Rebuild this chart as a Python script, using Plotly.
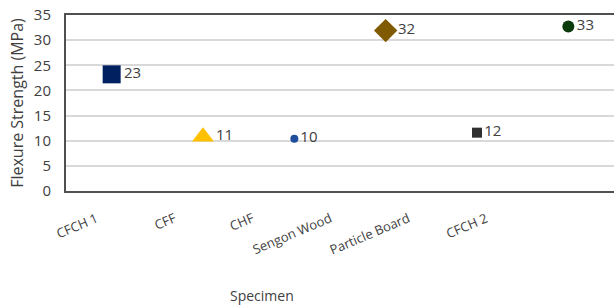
import plotly.graph_objects as go

categories = ["CFCH 1", "CFF", "CHF", "Sengon Wood", "Particle Board", "CFCH 2"]
strength = [23.2, 10.8, 10.4, 31.9, 11.6, 32.7]
labels = ["23", "11", "10", "32", "12", "33"]
symbols = ["square", "triangle-up", "circle", "diamond", "square", "circle"]
colors = ["#002060", "#FFC000", "#1F4E9C", "#7F5A00", "#303030", "#0B3A0B"]
sizes = [18, 19, 8, 18, 10, 12]

fig = go.Figure()
for c, v, t, s, col, sz in zip(categories, strength, labels, symbols, colors, sizes):
    fig.add_trace(go.Scatter(
        x=[c], y=[v], mode="markers+text", text=[t], textposition="middle right",
        marker=dict(symbol=s, color=col, size=sz, line=dict(width=0)),
        textfont=dict(family="Open Sans, sans-serif", size=15, color="#404040"),
        showlegend=False, cliponaxis=False,
    ))

# category label axis (labels sit on a tighter spacing than the markers)
fig.add_trace(go.Scatter(x=categories, y=[None] * len(categories), xaxis="x2",
                         showlegend=False, hoverinfo="skip", mode="markers"))

fig.update_layout(
    width=614, height=307,
    margin=dict(l=66, r=0, t=15, b=116),
    paper_bgcolor="white", plot_bgcolor="white",
    font=dict(family="Open Sans, sans-serif", size=13, color="#404040"),
    xaxis=dict(
        type="category", categoryorder="array", categoryarray=categories,
        range=[-0.5, 5.5], showgrid=False, automargin=False, showticklabels=False,
        showline=True, linecolor="#505050", linewidth=2, mirror=True, ticks="",
    ),
    xaxis2=dict(
        type="category", categoryorder="array", categoryarray=categories,
        overlaying="x", anchor="y", side="bottom",
        range=[-0.39, 6.64], tickangle=-23, showgrid=False, automargin=False,
        showline=False, ticks="", ticklabelstandoff=17,
        tickfont=dict(size=13, color="#404040"),
    ),
    yaxis=dict(
        range=[0, 35], dtick=5, showgrid=True, gridcolor="#D9D9D9", gridwidth=1.5,
        showline=True, linecolor="#505050", linewidth=2, mirror=True, automargin=False,
        tickfont=dict(size=15, color="#404040"), ticklabelstandoff=10, zeroline=False,
        ticklabeloverflow="allow",
        title=dict(text="Flexure Strength (MPa)", font=dict(size=16, color="#404040"), standoff=6),
    ),
    annotations=[dict(
        text="Specimen", xref="paper", yref="paper", x=0.358, y=0, yshift=-104,
        xanchor="center", yanchor="middle", showarrow=False,
        font=dict(size=14, color="#404040"),
    )],
)

fig.write_html("out.html", config={"displayModeBar": False},
               post_script="document.body.style.margin='0';")
